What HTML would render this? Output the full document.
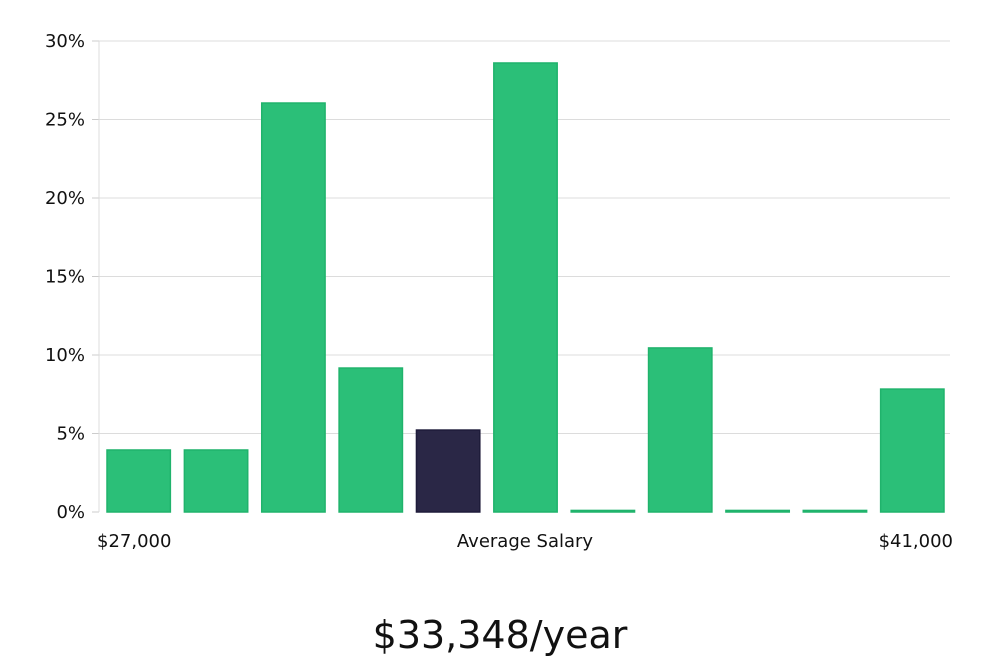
<!DOCTYPE html>
<html><head><meta charset="utf-8"><style>
html,body{margin:0;padding:0;background:#fff;width:1000px;height:660px;overflow:hidden}
text{font-family:"DejaVu Sans","Liberation Sans",sans-serif}
</style></head><body>
<svg id="chart" width="1000" height="660" xmlns="http://www.w3.org/2000/svg"></svg>
<script>
const values=[3.95,3.95,26.05,9.17,5.22,28.6,0.1,10.45,0.1,0.1,7.83];
const highlight=[false,false,false,false,true,false,false,false,false,false,false];
const yTicks=[0,5,10,15,20,25,30];
const xLabels=["$27,000","Average Salary","$41,000"];
const summary="$33,348/year";
const svg=document.getElementById('chart');
const NS='http://www.w3.org/2000/svg';
const X0=99,X1=950,Y0=512,Y30=41;
function y(v){return Y0-(v/30)*(Y0-Y30);}
const step=(X1-X0)/values.length;
function mk(t,a,p){const e=document.createElementNS(NS,t);for(const k in a)e.setAttribute(k,a[k]);(p||svg).appendChild(e);return e;}
yTicks.forEach(t=>{
  if(t>0){const g=mk('line',{x1:X0,x2:X1,y1:y(t),y2:y(t),stroke:'#dcdcdc','stroke-width':1});
  
  }
  const tk=mk('line',{x1:X0-7,x2:X0,y1:y(t),y2:y(t),stroke:'#ccc'});
  
  
  const l=mk('text',{x:85,y:y(t)+6,'text-anchor':'end','font-size':18,fill:'#111'});
  l.textContent=t+'%';
  
  
});
const ax=mk('line',{x1:X0,x2:X0,y1:Y30,y2:Y0,stroke:'#ddd'});


values.forEach((v,i)=>{
  const bx=X0+i*step+8, bw=step-14;
  const top=y(v);
  const r=mk('rect',{x:bx,y:top,width:bw,height:Math.max(1,Y0-top),fill:highlight[i]?'#2a2746':'#2bbf78',stroke:highlight[i]?'#1e1b3a':'#20b36c','stroke-width':1.5});
  
  
});
const pos=[[97,'start'],[525,'middle'],[953,'end']];
xLabels.forEach((s,i)=>{
  const t=mk('text',{x:pos[i][0],y:547,'text-anchor':pos[i][1],'font-size':18,fill:'#111'});
  t.textContent=s;
  
  
});
const sm=mk('text',{x:500,y:648,'text-anchor':'middle','font-size':38,fill:'#111','font-family':'"Liberation Sans Narrow","Liberation Sans",sans-serif'});
sm.textContent=summary;


</script>
</body></html>
